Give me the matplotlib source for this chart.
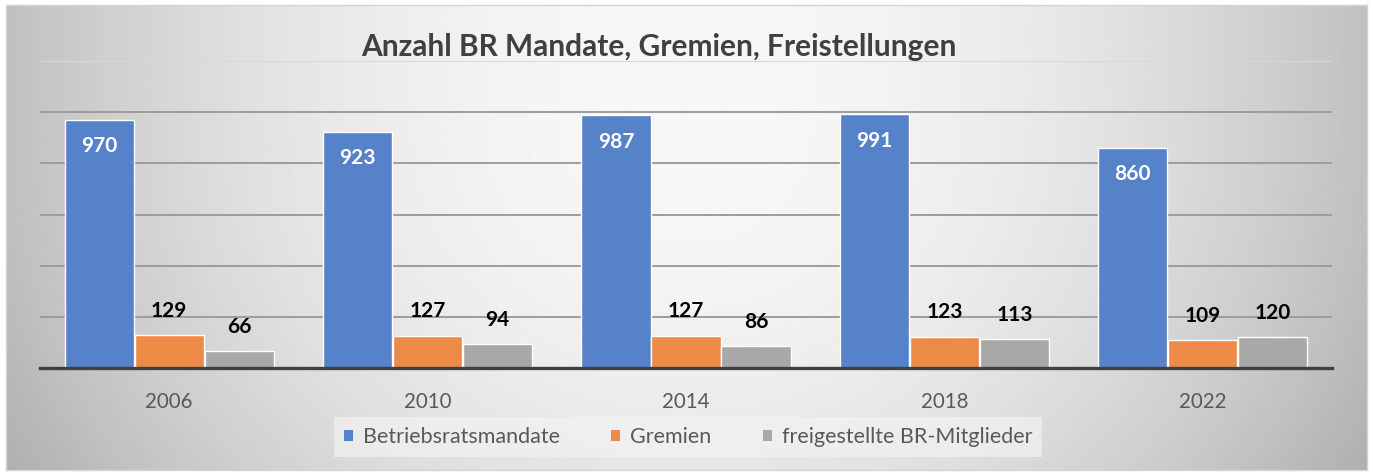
import numpy as np
import matplotlib.pyplot as plt
from matplotlib.patches import Patch

years = ["2006", "2010", "2014", "2018", "2022"]
mandate = [970, 923, 987, 991, 860]
gremien = [129, 127, 127, 123, 109]
freigestellt = [66, 94, 86, 113, 120]
series_names = ["Betriebsratsmandate", "Gremien", "freigestellte BR-Mitglieder"]
colors = ["#5682c9", "#ed8a48", "#a8a8a8"]

plt.rcParams['font.family'] = ['Lato', 'DejaVu Sans']

W, H = 1373, 475
fig = plt.figure(figsize=(W / 100, H / 100), dpi=100)
fig.patch.set_facecolor("white")

# gradient background of the chart area
bg = fig.add_axes([6 / W, 5 / H, (1367 - 6) / W, (470 - 5) / H])
xx, yy = np.meshgrid(np.linspace(-1, 1, 600), np.linspace(-0.4, 1.1, 220))
val = 247 - 55 * (xx ** 2) - 14 * np.clip(yy, 0, None) ** 2
img = np.clip(val, 0, 255) / 255
bg.imshow(img, cmap="gray", vmin=0, vmax=1, aspect="auto", extent=[0, 1, 0, 1], origin="upper")
bg.set_xlim(0, 1)
bg.set_ylim(0, 1)
bg.set_xticks([])
bg.set_yticks([])
for s in bg.spines.values():
    s.set_color("#d4d4d4")
    s.set_linewidth(1)

ax = fig.add_axes([40 / W, 1 - 368 / H, (1332 - 40) / W, (368 - 61) / H])
ax.patch.set_alpha(0)

x = np.arange(len(years))
bw = 0.268
off = 0.271
data = [mandate, gremien, freigestellt]
for i, (vals, c, name) in enumerate(zip(data, colors, series_names)):
    pos = x + (i - 1) * off
    ax.bar(pos, vals, width=bw, color=c, edgecolor="white", linewidth=1.0, zorder=3, label=name)
    for px, v in zip(pos, vals):
        if i == 0:
            ax.annotate(str(v), (px, v), xytext=(0, -19), textcoords="offset points",
                        ha="center", va="center", color="white", fontsize=15, fontweight="bold", zorder=5)
        else:
            ax.annotate(str(v), (px, v), xytext=(0, 13), textcoords="offset points",
                        ha="center", va="baseline", color="black", fontsize=15, fontweight="bold", zorder=5)

ax.set_xlim(-0.5, len(years) - 0.5)
ax.set_ylim(0, 1200)
ax.set_yticks([200, 400, 600, 800, 1000, 1200])
ax.yaxis.grid(True, color="#9c9c9c", linewidth=1.4, zorder=1)
gl = ax.yaxis.get_gridlines()
gl[-1].set_color("#d8d8d8")
ax.tick_params(axis="y", length=0, labelleft=False)
ax.set_xticks(x)
ax.set_xticklabels(years)
ax.tick_params(axis="x", length=0, pad=17, labelsize=14.8, labelcolor="#595959")
for side in ["top", "left", "right"]:
    ax.spines[side].set_visible(False)
ax.spines["bottom"].set_color("#404040")
ax.spines["bottom"].set_linewidth(2.4)
ax.spines["bottom"].set_zorder(4)

fig.text(659 / W, 1 - 56 / H, "Anzahl BR Mandate, Gremien, Freistellungen", ha="center", va="baseline",
         fontsize=21.5, fontweight="bold", color="#404040")

handles = [Patch(facecolor=c, edgecolor="none") for c in colors]
leg = fig.legend(handles, series_names, loc="center", bbox_to_anchor=(688 / W, 1 - 437 / H), ncol=3,
                 frameon=True, fontsize=15.5, handlelength=0.42, handleheight=0.42, handletextpad=0.45,
                 columnspacing=2.4, borderpad=0.45, fancybox=False)
leg.get_frame().set_facecolor("#f2f2f2")
leg.get_frame().set_alpha(0.7)
leg.get_frame().set_edgecolor("none")
for t in leg.get_texts():
    t.set_color("#595959")

fig.savefig("out.png", dpi=100)
